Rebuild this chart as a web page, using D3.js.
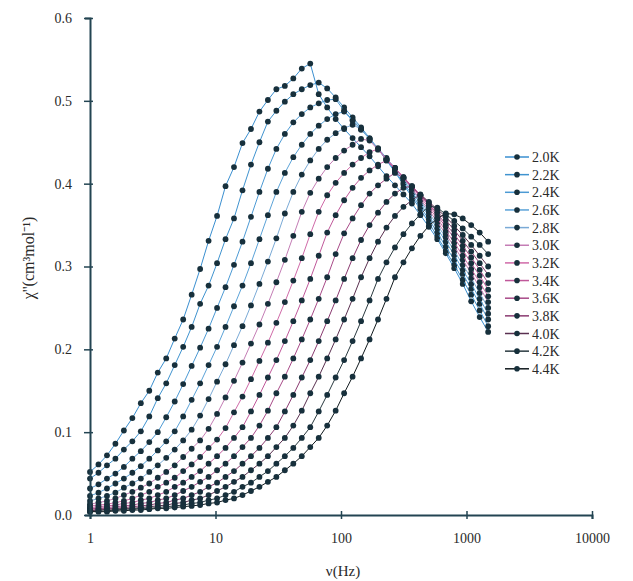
<!DOCTYPE html>
<html><head><meta charset="utf-8">
<script src="https://cdn.jsdelivr.net/npm/d3@7/dist/d3.min.js"></script>
<style>
html,body{margin:0;padding:0;background:#fff;}
svg{display:block;}
text{font-family:"Liberation Serif","Times New Roman",serif;fill:#2a2a2a;}
</style></head>
<body>
<svg id="chart" width="633" height="581"></svg>
<script>
// frequency (Hz)
const freqs = [1,1.168,1.365,1.594,1.862,2.175,2.541,2.968,3.467,4.05,4.732,5.527,6.457,7.543,8.81,10.29,12.02,14.04,16.41,19.17,22.39,26.15,30.55,35.69,41.69,48.7,56.89,66.45,77.62,90.68,105.9,123.7,144.5,168.9,197.2,230.4,269.2,314.5,367.3,429.1,501.2,585.5,683.9,798.9,933.3,1090,1274,1488];
const temps = ["2.0K","2.2K","2.4K","2.6K","2.8K","3.0K","3.2K","3.4K","3.6K","3.8K","4.0K","4.2K","4.4K"];
const s20 = [0.052,0.061,0.072,0.086,0.102,0.117,0.135,0.150,0.172,0.189,0.213,0.236,0.266,0.297,0.331,0.361,0.397,0.420,0.449,0.466,0.487,0.501,0.514,0.518,0.527,0.539,0.545,0.508,0.492,0.478,0.466,0.455,0.444,0.433,0.421,0.409,0.398,0.387,0.376,0.362,0.348,0.333,0.316,0.298,0.279,0.258,0.239,0.221];
const s22 = [0.044,0.051,0.060,0.068,0.079,0.089,0.101,0.119,0.141,0.159,0.181,0.203,0.227,0.255,0.277,0.304,0.333,0.358,0.392,0.423,0.450,0.475,0.488,0.499,0.508,0.514,0.519,0.522,0.515,0.504,0.492,0.480,0.468,0.455,0.442,0.428,0.414,0.399,0.384,0.369,0.353,0.336,0.319,0.302,0.284,0.266,0.247,0.228];
const s24 = [0.032,0.037,0.044,0.050,0.058,0.068,0.077,0.088,0.100,0.118,0.137,0.158,0.180,0.202,0.225,0.250,0.275,0.302,0.330,0.360,0.390,0.418,0.442,0.460,0.474,0.484,0.492,0.497,0.501,0.502,0.488,0.477,0.466,0.454,0.442,0.429,0.415,0.401,0.387,0.372,0.357,0.341,0.324,0.308,0.291,0.273,0.255,0.236];
const s26 = [0.023,0.027,0.032,0.038,0.044,0.051,0.059,0.068,0.078,0.089,0.101,0.119,0.139,0.159,0.181,0.203,0.227,0.252,0.277,0.304,0.333,0.362,0.390,0.413,0.432,0.447,0.460,0.470,0.478,0.484,0.487,0.476,0.465,0.454,0.442,0.430,0.417,0.404,0.390,0.376,0.361,0.346,0.330,0.314,0.296,0.279,0.261,0.243];
const s28 = [0.017,0.020,0.023,0.027,0.033,0.038,0.044,0.052,0.060,0.069,0.079,0.090,0.103,0.120,0.140,0.161,0.182,0.205,0.228,0.253,0.279,0.306,0.334,0.364,0.390,0.411,0.428,0.442,0.453,0.461,0.467,0.471,0.466,0.454,0.443,0.431,0.419,0.406,0.393,0.379,0.365,0.350,0.335,0.319,0.302,0.286,0.268,0.250];
const s30 = [0.013,0.015,0.017,0.020,0.024,0.028,0.033,0.038,0.045,0.052,0.060,0.070,0.080,0.090,0.104,0.122,0.142,0.162,0.184,0.207,0.230,0.255,0.281,0.308,0.337,0.366,0.389,0.406,0.420,0.431,0.440,0.447,0.454,0.452,0.441,0.430,0.419,0.407,0.394,0.381,0.368,0.354,0.339,0.324,0.308,0.292,0.275,0.257];
const s32 = [0.011,0.012,0.013,0.015,0.017,0.020,0.024,0.028,0.034,0.039,0.045,0.053,0.061,0.070,0.081,0.091,0.105,0.124,0.143,0.164,0.186,0.208,0.232,0.257,0.283,0.310,0.339,0.366,0.386,0.401,0.413,0.423,0.431,0.438,0.442,0.429,0.419,0.408,0.396,0.384,0.371,0.358,0.343,0.329,0.313,0.297,0.281,0.264];
const s34 = [0.009,0.010,0.011,0.012,0.014,0.015,0.018,0.020,0.024,0.028,0.034,0.039,0.046,0.053,0.062,0.071,0.081,0.093,0.106,0.125,0.145,0.166,0.187,0.210,0.234,0.259,0.285,0.313,0.341,0.362,0.380,0.395,0.407,0.416,0.423,0.428,0.418,0.408,0.397,0.386,0.374,0.361,0.348,0.334,0.320,0.304,0.289,0.272];
const s36 = [0.008,0.008,0.009,0.010,0.011,0.012,0.014,0.015,0.018,0.020,0.024,0.029,0.034,0.040,0.046,0.054,0.062,0.071,0.082,0.093,0.108,0.126,0.147,0.167,0.189,0.212,0.236,0.261,0.287,0.315,0.340,0.358,0.374,0.388,0.398,0.406,0.413,0.407,0.396,0.386,0.375,0.364,0.351,0.339,0.325,0.311,0.296,0.280];
const s38 = [0.007,0.007,0.008,0.008,0.009,0.010,0.011,0.012,0.014,0.015,0.018,0.020,0.024,0.028,0.034,0.039,0.046,0.053,0.062,0.071,0.081,0.093,0.106,0.125,0.145,0.166,0.187,0.210,0.234,0.259,0.285,0.310,0.332,0.350,0.365,0.378,0.388,0.395,0.397,0.386,0.377,0.366,0.356,0.344,0.331,0.318,0.304,0.290];
const s40 = [0.005,0.006,0.007,0.007,0.008,0.008,0.009,0.010,0.011,0.012,0.014,0.015,0.018,0.020,0.024,0.029,0.034,0.040,0.046,0.054,0.062,0.071,0.082,0.093,0.108,0.126,0.147,0.167,0.189,0.212,0.236,0.261,0.287,0.310,0.330,0.347,0.361,0.372,0.380,0.387,0.378,0.369,0.360,0.349,0.338,0.326,0.313,0.300];
const s42 = [0.004,0.005,0.005,0.006,0.007,0.007,0.008,0.008,0.009,0.010,0.011,0.012,0.014,0.015,0.018,0.020,0.024,0.028,0.034,0.039,0.046,0.053,0.062,0.071,0.081,0.093,0.106,0.125,0.145,0.166,0.187,0.210,0.234,0.259,0.285,0.305,0.323,0.339,0.352,0.363,0.373,0.371,0.363,0.355,0.346,0.336,0.326,0.315];
const s44 = [0.004,0.004,0.004,0.005,0.005,0.006,0.006,0.007,0.008,0.008,0.009,0.010,0.011,0.012,0.014,0.015,0.018,0.020,0.024,0.029,0.034,0.040,0.046,0.054,0.062,0.071,0.082,0.093,0.108,0.126,0.147,0.167,0.189,0.212,0.236,0.261,0.287,0.305,0.322,0.337,0.349,0.358,0.364,0.363,0.358,0.350,0.341,0.330];
const seriesValues = [s20,s22,s24,s26,s28,s30,s32,s34,s36,s38,s40,s42,s44];
const lineColors = ["#3a8fd0","#3f93cf","#4c9ad4","#5ba3d8","#7aaad6","#c47db5","#d06aa8","#c0589a","#a84a88","#8a3a70","#5a3050","#2a3a40","#111a1e"];
const xTicks = [1,10,100,1000,10000];
const yTicks = [0,0.1,0.2,0.3,0.4,0.5,0.6];

const svg = d3.select("#chart");
const x = d3.scaleLog().domain([1,10000]).range([90,592]);
const y = d3.scaleLinear().domain([0,0.6]).range([515,18]);
const axisColor = "#234452";

// series
const line = d3.line().x(d=>x(d[0])).y(d=>y(d[1]));
seriesValues.forEach((vals,i)=>{
  const pts = freqs.map((f,k)=>[f,vals[k]]);
  const g = svg.append("g");
  g.append("path").datum(pts).attr("d",line).attr("fill","none")
    .attr("stroke",lineColors[i]).attr("stroke-width",1);
  g.selectAll("circle").data(pts).enter().append("circle")
    .attr("cx",d=>x(d[0])).attr("cy",d=>y(d[1])).attr("r",2.9)
    .attr("fill","#17303c");
});

// axes
const xa = svg.append("g").attr("transform","translate(0,515)")
  .call(d3.axisBottom(x).tickValues(xTicks).tickFormat(d3.format("d")).tickSize(4).tickPadding(14));
xa.select(".domain").attr("stroke",axisColor).attr("stroke-width",2);
xa.selectAll(".tick line").attr("stroke",axisColor).attr("stroke-width",1.5).attr("y1",-4).attr("y2",4);
xa.selectAll(".tick text").attr("font-size",14).attr("font-family","Liberation Serif").attr("fill","#2a2a2a");

const ya = svg.append("g").attr("transform","translate(90,0)")
  .call(d3.axisLeft(y).tickValues(yTicks).tickFormat(d3.format(".1f")).tickSize(5).tickPadding(13));
ya.select(".domain").attr("stroke",axisColor).attr("stroke-width",2);
ya.selectAll(".tick line").attr("stroke",axisColor).attr("stroke-width",1.5).attr("x1",-6).attr("x2",3);
ya.selectAll(".tick text").attr("font-size",14).attr("font-family","Liberation Serif").attr("fill","#2a2a2a");

// axis titles
svg.append("text").attr("transform","translate(34,258) rotate(-90)")
  .attr("text-anchor","middle").attr("font-size",16).text("χ''(cm³mol⁻¹)");
svg.append("text").attr("x",343).attr("y",576).attr("text-anchor","middle")
  .attr("font-size",15).text("ν(Hz)");

// legend
const lg = svg.append("g");
temps.forEach((t,i)=>{
  const yy = 157 + i*17.65;
  lg.append("line").attr("x1",505).attr("x2",529).attr("y1",yy).attr("y2",yy)
    .attr("stroke",lineColors[i]).attr("stroke-width",1.5);
  lg.append("circle").attr("cx",517).attr("cy",yy).attr("r",2.8).attr("fill","#17303c");
  lg.append("text").attr("x",532).attr("y",yy+5).attr("font-size",14).text(t);
});
</script>
</body></html>
